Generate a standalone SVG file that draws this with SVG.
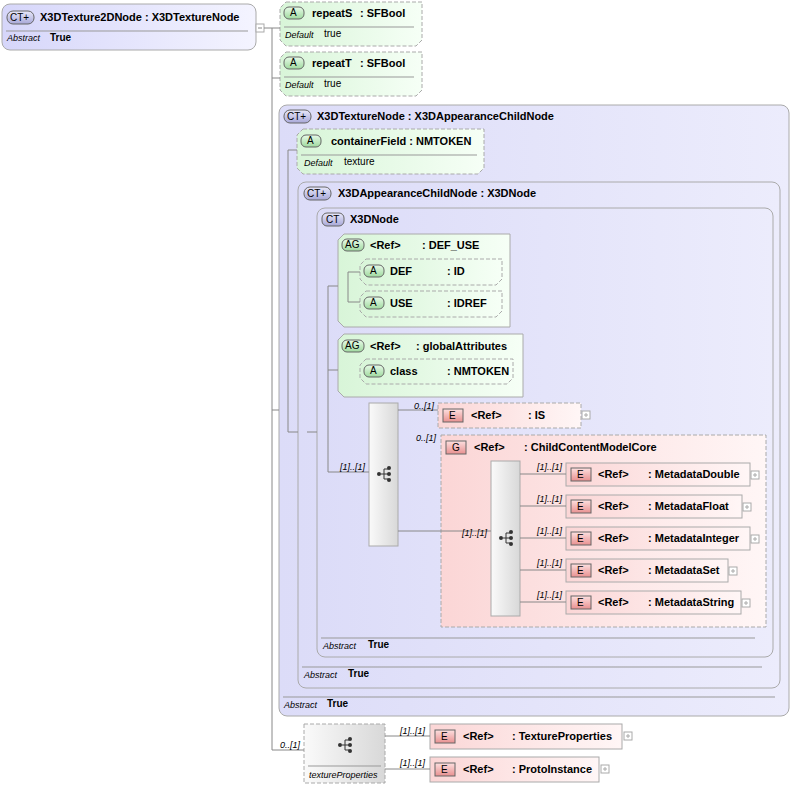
<svg xmlns="http://www.w3.org/2000/svg" width="794" height="788" viewBox="0 0 794 788">
<defs>
<linearGradient id="ct" x1="0" y1="0" x2="1" y2="0"><stop offset="0" stop-color="#d6d6fa"/><stop offset="1" stop-color="#f4f4ff"/></linearGradient>
<linearGradient id="ctb" x1="0" y1="0" x2="1" y2="0"><stop offset="0" stop-color="#dcdcf8"/><stop offset="1" stop-color="#ececfc"/></linearGradient>
<linearGradient id="at" x1="0" y1="0" x2="1" y2="0"><stop offset="0" stop-color="#d8f5d8"/><stop offset="1" stop-color="#f6fff6"/></linearGradient>
<linearGradient id="el" x1="0" y1="0" x2="1" y2="0"><stop offset="0" stop-color="#fbd6d6"/><stop offset="1" stop-color="#fff6f6"/></linearGradient>
<linearGradient id="sq" x1="0" y1="0" x2="1" y2="0"><stop offset="0" stop-color="#fafafa"/><stop offset="1" stop-color="#d8d8d8"/></linearGradient>
<linearGradient id="bA" x1="0" y1="0" x2="0" y2="1"><stop offset="0" stop-color="#e8fbe8"/><stop offset="1" stop-color="#9fd99f"/></linearGradient>
<linearGradient id="bE" x1="0" y1="0" x2="0" y2="1"><stop offset="0" stop-color="#fde0e0"/><stop offset="1" stop-color="#e89090"/></linearGradient>
<linearGradient id="bC" x1="0" y1="0" x2="0" y2="1"><stop offset="0" stop-color="#e8e8fa"/><stop offset="1" stop-color="#a8a8d8"/></linearGradient>
<g id="seqsym"><circle cx="-5" cy="0" r="2" fill="#333"/><path d="M-3 0H0M0-5V5M0-5H4M0 0H4M0 5H4" stroke="#333" fill="none"/><circle cx="5" cy="-6" r="2" fill="#333"/><circle cx="5" cy="0" r="2" fill="#333"/><circle cx="5" cy="6" r="2" fill="#333"/></g>
</defs>
<style>
text{font-family:"Liberation Sans",Arial,sans-serif;font-size:11px;fill:#000}
.b{font-weight:bold}
.s{font-size:10px}
.i{font-style:italic;font-size:9px}
.m{font-style:italic;font-size:9px}
.ln{stroke:#888;stroke-width:1;fill:none}
.sep{stroke:#999;stroke-width:1}
.ct{fill:url(#ct);stroke:#aaa}
.ctb{fill:url(#ctb);stroke:#aaa}
.at{fill:url(#at);stroke:#aaa;stroke-dasharray:4 2}
.atS{fill:url(#at);stroke:#aaa}
.el{fill:url(#el);stroke:#aaa}
.elD{fill:url(#el);stroke:#aaa;stroke-dasharray:4 2}
.bA{fill:url(#bA);stroke:#666}
.bE{fill:url(#bE);stroke:#666}
.bC{fill:url(#bC);stroke:#666}
.sq{fill:url(#sq);stroke:#aaa}
.plus{fill:#fff;stroke:#aaa}
</style>

<g id="root">
<rect class="ct" x="2" y="4" width="254" height="46" rx="8"/>
<rect class="bC" x="7" y="11" width="27" height="13" rx="6"/><text class="s" x="10" y="21">CT+</text>
<text class="b" x="40" y="21">X3DTexture2DNode : X3DTextureNode</text>
<line class="sep" x1="6" y1="31" x2="248" y2="31"/>
<text class="i" x="7" y="41">Abstract</text><text class="s b" x="50" y="41">True</text>
<rect class="plus" x="256" y="24" width="8" height="8"/><line x1="258" y1="28" x2="262" y2="28" stroke="#888"/>
</g>

<g id="repeatS">
<path class="at" d="M286 2H422V40L416 46H286L280 40V8Z"/>
<rect class="bA" x="284" y="7" width="20" height="12" rx="5"/><text class="s" x="290" y="16">A</text>
<text class="b" x="312" y="17">repeatS</text><text class="b" x="360" y="17">: SFBool</text>
<line class="sep" x1="284" y1="27" x2="414" y2="27"/>
<text class="i" x="285" y="38">Default</text><text class="s" x="324" y="37">true</text>
</g>
<g id="repeatT">
<path class="at" d="M286 52H422V90L416 96H286L280 90V58Z"/>
<rect class="bA" x="284" y="57" width="20" height="12" rx="5"/><text class="s" x="290" y="66">A</text>
<text class="b" x="312" y="67">repeatT</text><text class="b" x="360" y="67">: SFBool</text>
<line class="sep" x1="284" y1="77" x2="414" y2="77"/>
<text class="i" x="285" y="88">Default</text><text class="s" x="324" y="87">true</text>
</g>

<g id="X3DTextureNode">
<rect class="ctb" x="279" y="105" width="510" height="611" rx="8"/>
<rect class="bC" x="284" y="110" width="27" height="13" rx="6"/><text class="s" x="287" y="120">CT+</text>
<text class="b" x="317" y="120">X3DTextureNode : X3DAppearanceChildNode</text>
<line class="sep" x1="283" y1="697" x2="775" y2="697"/>
<text class="i" x="284" y="708">Abstract</text><text class="s b" x="327" y="707">True</text>
</g>

<g id="containerField">
<path class="at" d="M303 129H484V168L478 174H303L297 168V135Z"/>
<rect class="bA" x="301" y="135" width="20" height="12" rx="5"/><text class="s" x="307" y="144">A</text>
<text class="b" x="331" y="145">containerField : NMTOKEN</text>
<line class="sep" x1="301" y1="155" x2="477" y2="155"/>
<text class="i" x="304" y="166">Default</text><text class="s" x="344" y="165">texture</text>
</g>

<g id="X3DAppearanceChildNode">
<rect class="ctb" x="298" y="182" width="482" height="506" rx="8"/>
<rect class="bC" x="304" y="187" width="27" height="13" rx="6"/><text class="s" x="307" y="197">CT+</text>
<text class="b" x="338" y="197">X3DAppearanceChildNode : X3DNode</text>
<line class="sep" x1="302" y1="667" x2="762" y2="667"/>
<text class="i" x="304" y="678">Abstract</text><text class="s b" x="348" y="677">True</text>
</g>

<g id="X3DNode">
<rect class="ctb" x="317" y="208" width="456" height="449" rx="8"/>
<rect class="bC" x="322" y="213" width="22" height="13" rx="5"/><text class="s" x="326" y="223">CT</text>
<text class="b" x="350" y="223">X3DNode</text>
<line class="sep" x1="321" y1="638" x2="755" y2="638"/>
<text class="i" x="323" y="649">Abstract</text><text class="s b" x="368" y="648">True</text>
</g>

<g id="DEF_USE">
<path class="atS" d="M344 234H510V327H344L338 321V240Z"/>
<rect class="bA" x="342" y="239" width="22" height="12" rx="5"/><text class="s" x="345" y="248">AG</text>
<text class="b" x="370" y="249">&lt;Ref&gt;</text><text class="b" x="422" y="249">: DEF_USE</text>
</g>
<g id="DEF">
<path class="at" d="M366 259H502V279L496 285H366L360 279V265Z"/>
<rect class="bA" x="364" y="265" width="20" height="12" rx="5"/><text class="s" x="370" y="274">A</text>
<text class="b" x="390" y="275">DEF</text><text class="b" x="447" y="275">: ID</text>
</g>
<g id="USE">
<path class="at" d="M366 291H502V311L496 317H366L360 311V297Z"/>
<rect class="bA" x="364" y="297" width="20" height="12" rx="5"/><text class="s" x="370" y="306">A</text>
<text class="b" x="390" y="307">USE</text><text class="b" x="447" y="307">: IDREF</text>
</g>

<g id="globalAttributes">
<path class="atS" d="M344 334H523V397H344L338 391V340Z"/>
<rect class="bA" x="342" y="340" width="22" height="12" rx="5"/><text class="s" x="345" y="349">AG</text>
<text class="b" x="370" y="350">&lt;Ref&gt;</text><text class="b" x="416" y="350">: globalAttributes</text>
</g>
<g id="class">
<path class="at" d="M366 359H513V378L507 384H366L360 378V365Z"/>
<rect class="bA" x="364" y="365" width="20" height="12" rx="5"/><text class="s" x="370" y="374">A</text>
<text class="b" x="390" y="375">class</text><text class="b" x="447" y="375">: NMTOKEN</text>
</g>

<g id="seq1">
<rect class="sq" x="369" y="403" width="29" height="143"/>
<use href="#seqsym" x="384" y="474"/>
</g>

<g id="IS">
<rect class="elD" x="438" y="403" width="143" height="25"/>
<rect class="bE" x="443" y="409" width="20" height="13"/><text class="s" x="449" y="419">E</text>
<text class="b" x="471" y="419">&lt;Ref&gt;</text><text class="b" x="528" y="419">: IS</text>
<rect class="plus" x="582" y="411" width="8" height="8"/><path d="M584 415H588M586 413V417" stroke="#aaa"/>
</g>

<g id="ChildContentModelCore">
<rect class="elD" x="441" y="435" width="325" height="192"/>
<rect class="bE" x="446" y="441" width="20" height="13"/><text class="s" x="452" y="451">G</text>
<text class="b" x="474" y="451">&lt;Ref&gt;</text><text class="b" x="524" y="451">: ChildContentModelCore</text>
<rect class="sq" x="491" y="461" width="29" height="155"/>
<use href="#seqsym" x="506" y="538"/>
</g>

<g id="MetadataDouble">
<rect class="el" x="566" y="463" width="184" height="23"/>
<rect class="bE" x="571" y="468" width="20" height="13"/><text class="s" x="577" y="478">E</text>
<text class="b" x="598" y="478">&lt;Ref&gt;</text><text class="b" x="648" y="478">: MetadataDouble</text>
<rect class="plus" x="751" y="471" width="8" height="8"/><path d="M753 475H757M755 473V477" stroke="#aaa"/>
</g>
<g id="MetadataFloat">
<rect class="el" x="566" y="495" width="176" height="23"/>
<rect class="bE" x="571" y="500" width="20" height="13"/><text class="s" x="577" y="510">E</text>
<text class="b" x="598" y="510">&lt;Ref&gt;</text><text class="b" x="648" y="510">: MetadataFloat</text>
<rect class="plus" x="743" y="503" width="8" height="8"/><path d="M745 507H749M747 505V509" stroke="#aaa"/>
</g>
<g id="MetadataInteger">
<rect class="el" x="566" y="527" width="184" height="23"/>
<rect class="bE" x="571" y="532" width="20" height="13"/><text class="s" x="577" y="542">E</text>
<text class="b" x="598" y="542">&lt;Ref&gt;</text><text class="b" x="648" y="542">: MetadataInteger</text>
<rect class="plus" x="751" y="535" width="8" height="8"/><path d="M753 539H757M755 537V541" stroke="#aaa"/>
</g>
<g id="MetadataSet">
<rect class="el" x="566" y="559" width="162" height="23"/>
<rect class="bE" x="571" y="564" width="20" height="13"/><text class="s" x="577" y="574">E</text>
<text class="b" x="598" y="574">&lt;Ref&gt;</text><text class="b" x="648" y="574">: MetadataSet</text>
<rect class="plus" x="729" y="567" width="8" height="8"/><path d="M731 571H735M733 569V573" stroke="#aaa"/>
</g>
<g id="MetadataString">
<rect class="el" x="566" y="591" width="175" height="23"/>
<rect class="bE" x="571" y="596" width="20" height="13"/><text class="s" x="577" y="606">E</text>
<text class="b" x="598" y="606">&lt;Ref&gt;</text><text class="b" x="648" y="606">: MetadataString</text>
<rect class="plus" x="742" y="599" width="8" height="8"/><path d="M744 603H748M746 601V605" stroke="#aaa"/>
</g>

<g id="textureProperties">
<rect class="sq" x="304" y="724" width="81" height="59" stroke-dasharray="4 2"/>
<use href="#seqsym" x="345" y="745"/>
<line class="sep" x1="308" y1="766" x2="381" y2="766"/>
<text class="i" x="309" y="778">textureProperties</text>
</g>
<g id="TextureProperties">
<rect class="el" x="430" y="724" width="192" height="25"/>
<rect class="bE" x="435" y="730" width="20" height="13"/><text class="s" x="441" y="740">E</text>
<text class="b" x="463" y="740">&lt;Ref&gt;</text><text class="b" x="512" y="740">: TextureProperties</text>
<rect class="plus" x="624" y="732" width="8" height="8"/><path d="M626 736H630M628 734V738" stroke="#aaa"/>
</g>
<g id="ProtoInstance">
<rect class="el" x="430" y="757" width="169" height="25"/>
<rect class="bE" x="435" y="763" width="20" height="13"/><text class="s" x="441" y="773">E</text>
<text class="b" x="463" y="773">&lt;Ref&gt;</text><text class="b" x="512" y="773">: ProtoInstance</text>
<rect class="plus" x="601" y="765" width="8" height="8"/><path d="M603 769H607M605 767V771" stroke="#aaa"/>
</g>

<g id="connectors">
<path class="ln" d="M264 28H272M272 28V750M272 28H280M272 78H280M272 410H279M272 750H304"/>
<path class="ln" d="M288 150V432M288 150H297M288 432H298"/>
<path class="ln" d="M307 432H317"/>
<path class="ln" d="M328 286V472M328 286H338M328 370H338M328 472H369"/>
<path class="ln" d="M348 272V302M348 272H360M348 302H360"/>
<path class="ln" d="M398 410H438M398 531H441M441 531H491"/>
<path class="ln" d="M520 474H566M520 506H566M520 538H566M520 570H566M520 602H566"/>
<path class="ln" d="M385 736H430M385 769H430"/>
<text class="m" x="280" y="748">0..[1]</text>
<text class="m" x="340" y="470">[1]..[1]</text>
<text class="m" x="414" y="409">0..[1]</text>
<text class="m" x="416" y="441">0..[1]</text>
<text class="m" x="462" y="536">[1]..[1]</text>
<text class="m" x="537" y="470">[1]..[1]</text>
<text class="m" x="537" y="502">[1]..[1]</text>
<text class="m" x="537" y="534">[1]..[1]</text>
<text class="m" x="537" y="566">[1]..[1]</text>
<text class="m" x="537" y="598">[1]..[1]</text>
<text class="m" x="400" y="734">[1]..[1]</text>
<text class="m" x="400" y="766">[1]..[1]</text>
</g>
</svg>
